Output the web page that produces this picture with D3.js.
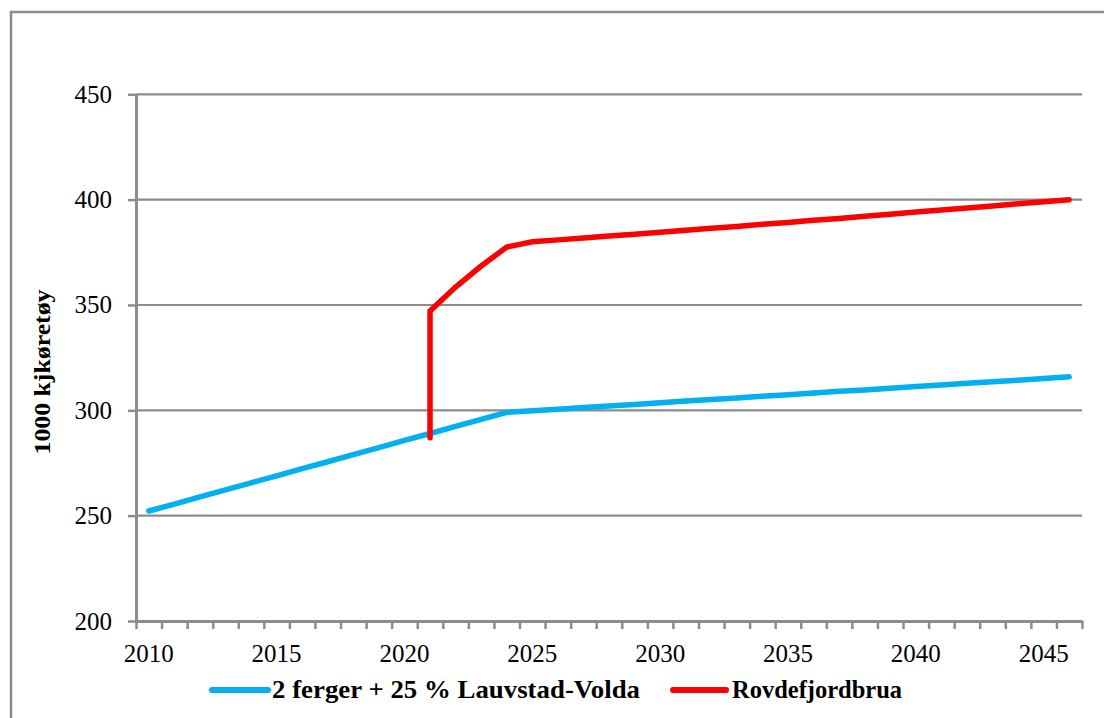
<!DOCTYPE html>
<html>
<head>
<meta charset="utf-8">
<script src="https://cdn.jsdelivr.net/npm/d3@7"></script>
<style>
  html, body { margin: 0; padding: 0; background: #fff; }
  svg { display: block; }
  text { font-family: "Liberation Serif", "DejaVu Serif", serif; fill: #000; }
</style>
</head>
<body>
<script>
// Traffic forecast, thousand vehicles per year
const years = d3.range(2010, 2047);
const tickLabels = [2010, 2015, 2020, 2025, 2030, 2035, 2040, 2045];
const yTicks = [200, 250, 300, 350, 400, 450];

// Ferry alternative, one value per year 2010–2046
const fergerValues = [
  252.2, 255.5, 258.9, 262.2, 265.6, 268.9, 272.3, 275.6, 279.0, 282.3,
  285.7, 289.0, 292.4, 295.7, 299.0, 299.8, 300.5, 301.3, 302.1, 302.8,
  303.6, 304.4, 305.1, 305.9, 306.7, 307.4, 308.2, 309.0, 309.7, 310.5,
  311.3, 312.0, 312.8, 313.6, 314.3, 315.1, 315.9
];

// Bridge alternative, opens in 2021 (jump drawn at the same year)
const bruYears = [
  2021, 2021, 2022, 2023, 2024, 2025, 2026, 2027, 2028, 2029, 2030,
  2031, 2032, 2033, 2034, 2035, 2036, 2037, 2038, 2039, 2040, 2041,
  2042, 2043, 2044, 2045, 2046
];
const bruValues = [
  287.0, 347.2, 358.5, 368.5, 377.5, 380.0, 380.9, 381.8, 382.7, 383.6, 384.5,
  385.5, 386.4, 387.3, 388.3, 389.2, 390.2, 391.1, 392.1, 393.1, 394.1, 395.1,
  396.0, 397.0, 398.0, 399.0, 400.0
];

const seriesNames = ["2 ferger + 25 % Lauvstad-Volda", "Rovdefjordbrua"];
const seriesColors = ["#00B0F0", "#FF0000"];
const yTitle = "1000 kjkøretøy";

const W = 1104, H = 718;
const plot = { left: 136, right: 1082, top: 94.3, bottom: 621 };
const gridColor = "#8c8c8c";

const svg = d3.select("body").append("svg").attr("width", W).attr("height", H);

// Outer chart frame (continues past the right and bottom edge)
svg.append("rect")
  .attr("x", 11).attr("y", 12).attr("width", W + 20).attr("height", H + 20)
  .attr("fill", "none").attr("stroke", gridColor).attr("stroke-width", 2.5);

const x = d3.scaleBand().domain(years).range([plot.left, plot.right]).padding(0);
const xc = yr => x(yr) + x.bandwidth() / 2;
const y = d3.scaleLinear().domain([200, 450]).range([plot.bottom, plot.top]);

// Horizontal gridlines
svg.append("g").selectAll("line")
  .data(yTicks.filter(v => v > 200))
  .join("line")
  .attr("x1", plot.left).attr("x2", plot.right)
  .attr("y1", d => y(d)).attr("y2", d => y(d))
  .attr("stroke", gridColor).attr("stroke-width", 2.2);

// Y axis
const yAxis = svg.append("g")
  .attr("transform", `translate(${plot.left},0)`)
  .call(d3.axisLeft(y).tickValues(yTicks).tickSize(8).tickPadding(16).tickSizeOuter(0));
yAxis.select(".domain").attr("stroke", gridColor).attr("stroke-width", 3);
yAxis.selectAll(".tick line").attr("stroke", gridColor).attr("stroke-width", 2.5);
yAxis.selectAll(".tick text")
  .attr("font-family", "Liberation Serif, serif")
  .attr("font-size", 25).attr("fill", "#222");

// X axis: ticks at the category boundaries, labels every fifth year
const boundaries = years.map(yr => x(yr)).concat([plot.right]);
const xScaleLin = d3.scaleLinear().domain([plot.left, plot.right]).range([plot.left, plot.right]);
const xAxis = svg.append("g")
  .attr("transform", `translate(0,${plot.bottom})`)
  .call(d3.axisBottom(xScaleLin).tickValues(boundaries).tickSize(8).tickFormat("").tickSizeOuter(0));
xAxis.select(".domain").attr("stroke", gridColor).attr("stroke-width", 3);
xAxis.selectAll(".tick line").attr("stroke", gridColor).attr("stroke-width", 2.5);

svg.append("g").selectAll("text")
  .data(tickLabels)
  .join("text")
  .attr("x", d => xc(d))
  .attr("y", plot.bottom + 41)
  .attr("text-anchor", "middle")
  .attr("font-size", 25)
  .attr("fill", "#222")
  .text(d => d);

// Y axis title
svg.append("text")
  .attr("transform", `translate(50,${372}) rotate(-90)`)
  .attr("text-anchor", "middle")
  .attr("font-size", 24)
  .attr("font-weight", "bold")
  .attr("textLength", 165).attr("lengthAdjust", "spacingAndGlyphs")
  .text(yTitle);

// Series lines
const line = d3.line().x(d => xc(d[0])).y(d => y(d[1]));

svg.append("path")
  .datum(years.map((yr, i) => [yr, fergerValues[i]]))
  .attr("d", line)
  .attr("fill", "none")
  .attr("stroke", seriesColors[0])
  .attr("stroke-width", 5.5)
  .attr("stroke-linecap", "round")
  .attr("stroke-linejoin", "round");

svg.append("path")
  .datum(bruYears.map((yr, i) => [yr, bruValues[i]]))
  .attr("d", line)
  .attr("fill", "none")
  .attr("stroke", seriesColors[1])
  .attr("stroke-width", 5.5)
  .attr("stroke-linecap", "round")
  .attr("stroke-linejoin", "miter");

// Legend
const legendItems = [
  { name: seriesNames[0], color: seriesColors[0], x1: 212, x2: 268, tx: 272, w: 368 },
  { name: seriesNames[1], color: seriesColors[1], x1: 673, x2: 726, tx: 732, w: 170 }
];
const lg = svg.append("g").selectAll("g").data(legendItems).join("g");
lg.append("line")
  .attr("x1", d => d.x1).attr("x2", d => d.x2)
  .attr("y1", 690).attr("y2", 690)
  .attr("stroke", d => d.color).attr("stroke-width", 6)
  .attr("stroke-linecap", "round");
lg.append("text")
  .attr("x", d => d.tx).attr("y", 698)
  .attr("font-size", 25).attr("font-weight", "bold")
  .attr("textLength", d => d.w).attr("lengthAdjust", "spacingAndGlyphs")
  .text(d => d.name);
</script>
</body>
</html>
